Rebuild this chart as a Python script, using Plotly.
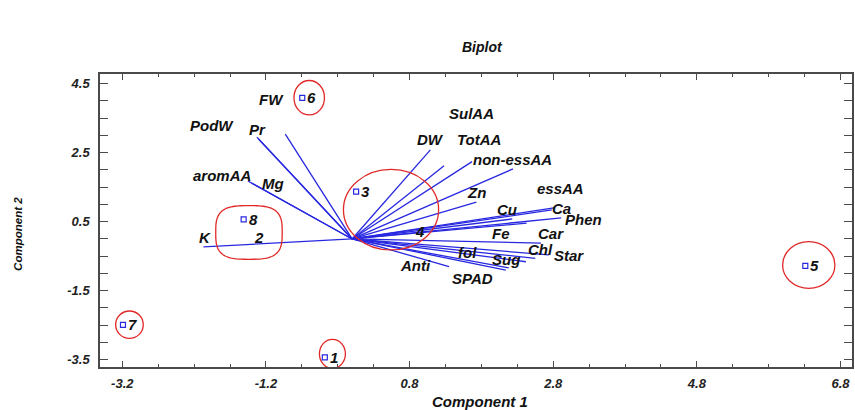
import numpy as np
import plotly.graph_objects as go

# ---------------- data ----------------
var_names = ["K", "aromAA", "Mg", "PodW", "Pr", "FW", "DW", "SulAA", "TotAA",
             "non-essAA", "Zn", "essAA", "Ca", "Phen", "Cu", "Fe", "Car",
             "Chl", "Star", "Sug", "fol", "SPAD", "Anti"]
var_pc1 = [-2.07, -1.45, -1.40, -1.325, -1.31, -0.93, 1.09, 1.67, 1.28,
           2.24, 1.73, 2.83, 2.78, 2.91, 2.23, 2.43, 2.63,
           2.55, 2.74, 2.42, 2.18, 2.14, 1.35]
var_pc2 = [-0.23, 1.68, 1.62, 2.95, 2.91, 3.04, 2.58, 2.24, 2.12,
           2.03, 1.07, 0.91, 0.84, 0.61, 0.58, 0.46, -0.12,
           -0.56, -0.46, -0.66, -0.84, -0.90, -0.80]

obs_names = ["1", "2", "3", "4", "5", "6", "7", "8"]
obs_pc1 = [-0.38, -1.436, 0.056, 0.80, 6.31, -0.694, -3.19, -1.51]
obs_pc2 = [-3.43, 0.038, 1.37, 0.21, -0.78, 4.09, -2.49, 0.57]

x_ticks = [-3.2, -1.2, 0.8, 2.8, 4.8, 6.8]
y_ticks = [-3.5, -1.5, 0.5, 2.5, 4.5]

# ---------------- layout helpers (positions / styles) ----------------
LABEL_POS = {
    "FW": (-1.125, 4.049), "PodW": (-1.944, 3.275), "Pr": (-1.311, 3.18),
    "aromAA": (-1.806, 1.835), "Mg": (-1.103, 1.594), "K": (-2.051, 0.049),
    "DW": (1.097, 2.87), "SulAA": (1.667, 3.623), "TotAA": (1.768, 2.89),
    "non-essAA": (2.24, 2.31), "Zn": (1.731, 1.342), "essAA": (2.903, 1.47),
    "Cu": (2.161, 0.841), "Ca": (2.911, 0.870), "Phen": (3.226, 0.551),
    "Fe": (2.069, 0.145), "Car": (2.764, 0.165), "Chl": (2.625, -0.319),
    "Star": (3.018, -0.493), "fol": (1.606, -0.397), "Sug": (2.139, -0.609),
    "Anti": (0.889, -0.783), "SPAD": (1.675, -1.139),
}
HIDDEN_MARKERS = {"2", "4"}
ELLIPSES = [  # (cx, cy, rx, ry)
    (-0.597, 4.093, 0.2125, 0.499),
    (0.542, 0.849, 0.6625, 1.168),
    (-3.10, -2.484, 0.192, 0.397),
    (-0.274, -3.328, 0.181, 0.42),
    (6.358, -0.754, 0.364, 0.675),
]
BLOB = (-1.436, 0.188, 0.4625, 0.777)

BOLD_IT = dict(family="Liberation Sans, Arial, sans-serif", weight="bold", style="italic")
BLUE = "rgb(40,40,225)"
RED = "rgb(225,40,40)"
AXIS_COL = "#4a4a4a"

fig = go.Figure()

# vectors
vx, vy = [], []
for a, b in zip(var_pc1, var_pc2):
    vx += [0, a, None]
    vy += [0, b, None]
fig.add_trace(go.Scatter(x=vx, y=vy, mode="lines",
                         line=dict(color=BLUE, width=1.3),
                         hoverinfo="skip", showlegend=False))

# observations
mx = [x for x, n in zip(obs_pc1, obs_names) if n not in HIDDEN_MARKERS]
my = [y for y, n in zip(obs_pc2, obs_names) if n not in HIDDEN_MARKERS]
fig.add_trace(go.Scatter(x=mx, y=my, mode="markers",
                         marker=dict(symbol="square-open", size=5,
                                     color=BLUE, line=dict(width=1.2, color=BLUE)),
                         showlegend=False))
for n, x, y in zip(obs_names, obs_pc1, obs_pc2):
    fig.add_annotation(x=x, y=y, text=n, showarrow=False,
                       xanchor="left", yanchor="middle", xshift=3,
                       font=dict(size=15, color="#111", **BOLD_IT))

# variable labels
for n in var_names:
    lx, ly = LABEL_POS[n]
    fig.add_annotation(x=lx, y=ly, text=n, showarrow=False,
                       xanchor="center", yanchor="middle",
                       font=dict(size=15, color="#111", **BOLD_IT))

# red ellipses
for cx, cy, rx, ry in ELLIPSES:
    fig.add_shape(type="circle", xref="x", yref="y",
                  x0=cx - rx, x1=cx + rx, y0=cy - ry, y1=cy + ry,
                  line=dict(color=RED, width=1.3))
cx, cy, rx, ry = BLOB
t = np.linspace(0, 2 * np.pi, 121)
px = cx + rx * np.sign(np.cos(t)) * np.abs(np.cos(t)) ** (2 / 3.2)
py = cy + ry * np.sign(np.sin(t)) * np.abs(np.sin(t)) ** (2 / 3.2)
path = "M " + " L ".join(f"{a:.4f},{b:.4f}" for a, b in zip(px, py)) + " Z"
fig.add_shape(type="path", path=path, xref="x", yref="y",
              line=dict(color=RED, width=1.3))

# titles
fig.add_annotation(x=0.508, y=1.092, xref="paper", yref="paper", text="Biplot",
                   showarrow=False, xanchor="center", yanchor="middle",
                   font=dict(size=14, color="#111", **BOLD_IT))
fig.add_annotation(x=0.505, y=-0.117, xref="paper", yref="paper", text="Component 1",
                   showarrow=False, xanchor="center", yanchor="middle",
                   font=dict(size=15, color="#111", **BOLD_IT))
fig.add_annotation(x=-0.1084, y=0.456, xref="paper", yref="paper", text="Component 2",
                   showarrow=False, xanchor="center", yanchor="middle", textangle=-90,
                   font=dict(size=11.5, color="#111",
                             family="Liberation Sans, Arial, sans-serif",
                             weight="bold", style="italic"))

tickfont = dict(size=13, color="#222", **BOLD_IT)
fig.update_xaxes(range=[-3.51, 6.96], showgrid=False, zeroline=False,
                 showline=True, linecolor=AXIS_COL, linewidth=1.5, mirror="ticks",
                 tickmode="array", tickvals=x_ticks,
                 ticktext=[f"{v:.1f}" for v in x_ticks],
                 ticks="inside", ticklen=6, tickwidth=1.2, tickcolor=AXIS_COL,
                 minor=dict(ticks="inside", ticklen=3, tickwidth=1.2, dtick=0.5,
                            tick0=0.8, tickcolor=AXIS_COL),
                 tickfont=tickfont, ticklabelstandoff=4)
fig.update_yaxes(range=[-3.71, 4.78], showgrid=False, zeroline=False,
                 showline=True, linecolor=AXIS_COL, linewidth=1.5, mirror="ticks",
                 tickmode="array", tickvals=y_ticks,
                 ticktext=[f"{v:.1f}" for v in y_ticks],
                 ticks="inside", ticklen=8, tickwidth=1.2, tickcolor=AXIS_COL,
                 minor=dict(ticks="inside", ticklen=8, tickwidth=1.2, dtick=0.5,
                            tick0=0.5, tickcolor=AXIS_COL),
                 tickfont=tickfont, ticklabelstandoff=6)

fig.update_layout(width=855, height=410,
                  margin=dict(l=100, r=1, t=74, b=43),
                  paper_bgcolor="white", plot_bgcolor="white",
                  showlegend=False)

fig.write_html("out.html", config={"displayModeBar": False},
               post_script="document.body.style.margin='0px';document.body.style.overflow='hidden';")
